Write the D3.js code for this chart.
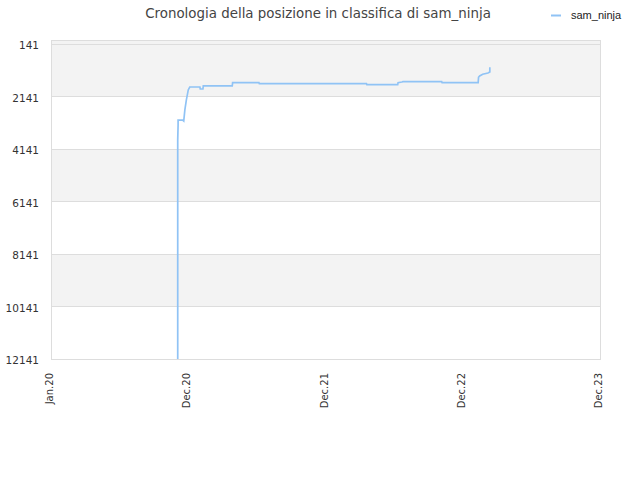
<!DOCTYPE html>
<html><head><meta charset="utf-8">
<script src="https://cdn.jsdelivr.net/npm/d3@7"></script>
<style>body{margin:0;background:#fff}svg{display:block}</style>
</head><body>
<svg id="c" width="640" height="480"></svg>
<script>
const title = "Cronologia della posizione in classifica di sam_ninja";
const seriesName = "sam_ninja";
const yTicks = [141, 2141, 4141, 6141, 8141, 10141, 12141];
const xTickDates = ["2020-01-01","2020-12-31","2021-12-31","2022-12-31","2023-12-31"];
const xTickLabels = ["Jan.20","Dec.20","Dec.21","Dec.22","Dec.23"];
const dates = ["2020-12-03","2020-12-03","2020-12-03","2020-12-03","2020-12-04","2020-12-04",
  "2020-12-16","2020-12-19","2020-12-22","2020-12-26","2020-12-31","2021-01-04",
  "2021-01-31","2021-02-01","2021-02-08","2021-02-09","2021-04-27","2021-04-28",
  "2021-07-07","2021-07-08","2022-04-19","2022-04-20","2022-07-11","2022-07-12",
  "2022-07-22","2022-07-25","2022-11-05","2022-11-06","2023-02-10","2023-02-11",
  "2023-02-14","2023-02-22","2023-03-08","2023-03-13","2023-03-13"];
const ranks = [12141,10120,8030,3800,3230,3040,
  3040,3075,2650,2270,1890,1780,
  1780,1855,1855,1740,1740,1615,
  1615,1653,1653,1691,1691,1615,
  1590,1577,1577,1615,1615,1410,
  1360,1295,1246,1208,1029];

const parse = d3.utcParse("%Y-%m-%d");
const data = dates.map((d,i)=>({date: parse(d), rank: ranks[i]}));
const svg = d3.select("#c");
const L=51, R=600, T=40, B=359;
const x = d3.scaleUtc().domain([parse(xTickDates[0]), parse(xTickDates[xTickDates.length-1])]).range([L,R]);
const y = d3.scaleLinear().domain([141,12141]).range([44,B]);

// bands
for (let i=0;i<yTicks.length-1;i+=2){
  const y0 = i===0 ? T : y(yTicks[i]);
  svg.append("rect").attr("x",L).attr("y",y0).attr("width",R-L).attr("height",y(yTicks[i+1])-y0).attr("fill","#f3f3f3");
}
// grid
yTicks.forEach(t=>{
  svg.append("line").attr("x1",L).attr("x2",R).attr("y1",y(t)).attr("y2",y(t)).attr("stroke","#dddddd").attr("stroke-width",1).attr("shape-rendering","crispEdges");
});
svg.append("rect").attr("x",L).attr("y",T).attr("width",R-L).attr("height",B-T).attr("fill","none").attr("stroke","#dddddd").attr("shape-rendering","crispEdges");

// y labels
const yAxis = d3.axisLeft(y).tickValues(yTicks).tickSize(0).tickPadding(12).tickFormat(d=>d);
const ya = svg.append("g").attr("transform",`translate(${L},0)`).call(yAxis);
ya.select(".domain").remove();
ya.selectAll("text").attr("font-family","DejaVu Sans").attr("font-size",10.5).attr("fill","#333").attr("dy","0.45em");

// x labels
const xAxis = d3.axisBottom(x).tickValues(xTickDates.map(parse)).tickSize(0).tickFormat((d,i)=>xTickLabels[i]);
const xa = svg.append("g").attr("transform",`translate(0,${B})`).call(xAxis);
xa.select(".domain").remove();
xa.selectAll("text").attr("font-family","DejaVu Sans").attr("font-size",10).attr("fill","#333")
  .attr("text-anchor","end").attr("transform","rotate(-90)").attr("x",-14).attr("y",-2).attr("dy","0.35em");

// line
const line = d3.line().x(d=>x(d.date)).y(d=>y(d.rank));
svg.append("path").datum(data).attr("d",line).attr("fill","none").attr("stroke","#90c3f5").attr("stroke-width",1.7);

// title
svg.append("text").attr("x",318).attr("y",18).attr("text-anchor","middle").attr("font-family","DejaVu Sans").attr("font-size",13.4).attr("fill","#444").text(title);
// legend
svg.append("line").attr("x1",551).attr("x2",561).attr("y1",15.5).attr("y2",15.5).attr("stroke","#90c3f5").attr("stroke-width",2);
svg.append("text").attr("x",571).attr("y",19).attr("font-family","Liberation Sans").attr("font-size",11).attr("fill","#222").text(seriesName);
</script>
</body></html>
